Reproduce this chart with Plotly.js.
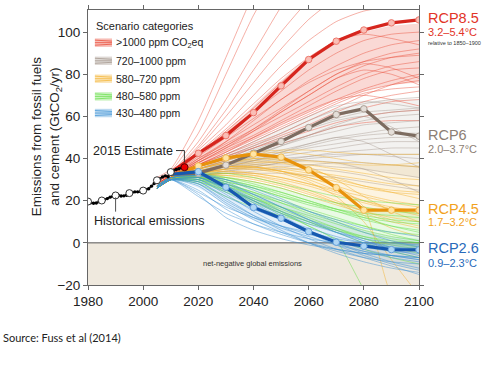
<!DOCTYPE html>
<html><head><meta charset="utf-8">
<script src="https://cdn.plot.ly/plotly-3.0.1.min.js"></script>
<style>html,body{margin:0;padding:0;background:#fff}#chart{width:500px;height:366px}</style>
</head><body><div id="chart"></div>
<script>
// ---------------- data ----------------
const scenYears = [2005,2010,2020,2030,2040,2050,2060,2070,2080,2090,2100];

const redLines = [
 [29,33,48,68,90,112,130,145,155,160,162],
 [30,34,52,80,108,130,150,160,165,168,170],
 [31,35,58,88,118,140,155,165,170,172,173],
 [29,33,45,60,76,92,106,116,122,125,126],
 [28,32,44,56,70,84,96,105,110,112,113],
 [29,33,43,54,66,78,88,96,101,104,106],
 [28,32,42,52,62,72,82,90,96,99,100],
 [28,32,41,50,59,68,77,84,90,94,96],
 [27,31,40,48,56,64,72,80,86,90,92],
 [28,32,40,47,54,62,70,78,84,88,90],
 [27,31,39,46,53,60,67,74,80,84,86],
 [27,31,38,45,51,58,65,72,78,82,83],
 [28,32,39,46,54,63,72,80,85,83,78],
 [27,31,38,44,50,56,62,68,73,77,80],
 [27,31,37,43,49,55,61,67,72,75,77],
 [26,30,37,42,48,54,60,66,71,73,74],
 [27,31,37,42,47,52,58,64,70,75,79],
 [26,30,36,41,46,51,56,62,67,70,72],
 [27,31,38,45,53,62,70,78,82,80,75],
 [26,30,36,40,45,50,55,60,64,67,68],
 [27,31,39,48,58,68,76,82,86,88,89],
 [28,32,42,53,64,76,87,96,99,97,94],
 [29,33,46,63,82,100,115,125,130,132,133],
 [27,31,37,43,50,57,63,68,70,68,65],
 [26,30,36,41,45,49,53,57,60,62,63],
 [26,30,35,39,43,47,51,55,57,58,58]
];
const grayLines = [
 [27,31,36,41,46,52,58,63,66,68,69],
 [27,31,35,40,45,50,55,59,62,63,64],
 [27,31,35,39,43,47,51,55,58,60,61],
 [26,30,34,38,42,46,50,53,56,57,58],
 [27,31,35,38,41,44,47,50,52,54,55],
 [26,30,34,37,40,43,46,49,51,52,52],
 [26,30,33,36,39,42,45,47,49,50,50],
 [27,31,34,37,39,41,43,45,47,48,48],
 [26,30,33,35,37,39,41,43,44,45,45],
 [26,30,33,35,36,38,40,41,42,42,42],
 [27,31,34,36,38,40,41,42,42,41,40],
 [26,30,32,34,35,36,37,38,38,37,36],
 [26,30,33,36,39,43,47,50,48,42,36],
 [27,31,34,36,37,37,37,36,35,33,31],
 [26,30,32,33,34,35,35,34,32,29,27],
 [26,30,32,34,36,38,39,38,35,30,24],
 [27,31,35,39,44,49,54,58,60,55,48],
 [26,30,33,37,41,46,51,56,60,62,63],
 [27,31,36,42,48,54,60,65,67,66,64],
 [26,30,32,33,33,33,32,31,29,27,25]
];
const orangeLines = [
 [27,31,35,38,40,40,39,38,37,37,38],
 [27,31,34,37,38,38,37,35,33,31,30],
 [26,30,34,36,37,36,34,32,30,28,27],
 [27,31,35,39,42,43,42,40,38,37,36],
 [26,30,33,35,35,34,32,29,26,24,23],
 [26,30,33,35,36,35,33,30,27,24,21],
 [27,31,34,36,36,34,31,27,23,20,18],
 [26,30,33,34,33,31,28,25,22,19,17],
 [26,30,32,33,32,30,27,23,19,16,14],
 [27,31,34,36,36,34,30,25,20,16,13],
 [26,30,32,32,30,27,23,19,15,12,10],
 [26,30,32,33,32,29,25,20,15,11,8],
 [27,31,35,38,40,39,36,30,22,15,10],
 [26,30,33,35,35,33,29,22,10,-8,-25],
 [27,31,34,36,36,34,31,27,17,-25,-40],
 [26,30,33,34,33,31,28,24,20,17,15],
 [27,31,35,38,39,38,35,31,27,25,24],
 [26,30,31,31,29,26,22,18,14,10,7],
 [27,31,36,40,43,44,44,43,42,42,42],
 [26,30,32,32,31,28,24,19,13,7,3]
];
const greenLines = [
 [27,31,33,33,31,28,25,22,20,19,18],
 [26,30,32,31,29,26,22,19,17,15,14],
 [26,30,31,29,26,22,18,15,12,10,9],
 [27,31,32,30,27,23,19,15,11,8,6],
 [26,30,30,27,23,19,15,11,8,5,4],
 [26,30,31,28,24,20,16,12,8,4,1],
 [27,31,31,28,24,19,14,10,6,3,1],
 [26,30,29,25,21,17,13,9,5,2,0],
 [26,30,30,26,21,16,11,7,3,0,-2],
 [27,31,32,30,27,24,20,16,12,8,5],
 [26,30,29,24,19,14,10,6,2,-1,-3],
 [26,30,31,27,22,17,12,7,2,-2,-5],
 [27,31,33,31,28,24,20,16,13,11,10],
 [26,30,30,25,20,15,10,5,0,-4,-7],
 [27,31,31,26,20,14,8,2,-3,-7,-10],
 [26,30,31,28,22,15,8,1,-22,-40,-50],
 [26,30,28,22,17,13,9,6,3,1,0],
 [27,31,32,29,26,22,19,16,14,13,12]
];
const blueLines = [
 [27,31,33,30,25,20,15,11,7,5,3],
 [26,30,31,26,20,14,9,5,2,0,-1],
 [26,30,29,22,16,11,7,3,0,-2,-3],
 [27,31,32,27,21,15,10,5,1,-2,-4],
 [26,30,28,20,13,8,4,1,-2,-4,-5],
 [26,30,30,24,17,11,5,0,-4,-7,-9],
 [27,31,31,25,18,12,6,1,-3,-6,-8],
 [26,30,27,18,11,5,0,-4,-7,-9,-10],
 [26,30,25,16,9,4,0,-3,-5,-6,-7],
 [27,31,33,29,23,17,11,6,1,-3,-6],
 [26,30,29,21,13,6,0,-5,-9,-12,-14],
 [26,30,31,26,19,12,5,-1,-6,-10,-13],
 [27,31,32,28,23,17,11,5,0,-4,-7],
 [26,30,22,14,9,5,2,0,-1,-2,-2],
 [26,30,30,23,15,8,2,-3,-7,-11,-15],
 [27,31,32,27,20,13,6,0,-5,-9,-12],
 [26,30,28,19,12,7,3,-1,-4,-6,-8],
 [27,31,32,30,26,21,15,10,5,1,-2],
 [26,30,24,17,12,8,5,2,0,-1,-1],
 [26,30,23,12,6,2,-1,-3,-5,-6,-7]
];

// dense core bands (low / high) per category
const redBandLow   = [27,31,37,43,49,56,62,68,72,75,76];
const redBandHigh  = [29,33,43,53,65,77,88,96,100,103,104];
const grayBandLow  = [26,30,33,35,37,38,38,37,35,33,31];
const grayBandHigh = [27,31,36,42,48,54,60,64,67,68,68];
const orangeBandLow  = [26,30,32,32,30,27,23,19,15,12,10];
const orangeBandHigh = [27,31,35,38,40,40,39,38,37,37,37];
const greenBandLow  = [26,30,29,24,19,14,10,6,2,-1,-3];
const greenBandHigh = [27,31,33,32,29,26,22,19,17,15,14];
const blueBandLow  = [26,30,26,18,11,5,0,-4,-7,-10,-13];
const blueBandHigh = [27,31,33,29,24,19,14,10,6,3,2];

const histYears = [1980,1981,1982,1983,1984,1985,1986,1987,1988,1989,1990,1991,1992,1993,1994,1995,1996,1997,1998,1999,2000,2001,2002,2003,2004,2005,2006,2007,2008,2009,2010,2011,2012,2013,2014];
const histValues = [19.5,19.0,18.8,18.9,19.5,20.0,20.5,21.0,21.7,22.1,22.4,22.6,22.2,22.3,22.6,23.3,23.9,24.2,24.2,24.4,24.9,25.3,25.7,26.9,28.2,29.5,30.4,31.3,31.8,31.4,33.3,34.3,34.8,35.2,35.6];
const histMarkYears = [1980,1985,1990,1995,2000,2005,2010];
const histMarkValues = [19.6,20.1,22.5,23.6,24.8,29.7,33.6];
const estimateYear = [2015];
const estimateValue = [35.9];

const rcpYears = [2010,2020,2030,2040,2050,2060,2070,2080,2090,2100];
const rcp85 = [33.5,42.5,50.9,61.8,74.5,87.0,95.7,101.0,104.4,105.8];
const rcp6  = [32.5,33.1,36.9,42.5,48.1,54.7,60.9,63.6,52.6,50.6];
const rcp45 = [31.8,36.5,40.3,42.1,40.7,34.6,26.2,15.5,15.5,15.5];
const rcp26 = [32.5,33.8,26.4,16.8,11.7,5.3,0.3,-1.6,-3.2,-3.3];

const categoryLabels = ['>1000 ppm CO<sub>2</sub>eq','720–1000 ppm','580–720 ppm','480–580 ppm','430–480 ppm'];
const rcpNames = ['RCP8.5','RCP6','RCP4.5','RCP2.6'];
const rcpRanges = ['3.2–5.4°C','2.0–3.7°C','1.7–3.2°C','0.9–2.3°C'];
const xTicks = [1980,2000,2020,2040,2060,2080,2100];
const yTicks = [-20,0,20,40,60,80,100];

// ---------------- styles ----------------
const FONT = '"Liberation Sans", Arial, Helvetica, sans-serif';
const cats = [
  {lines: redLines,    low: redBandLow,    high: redBandHigh,    rgb:[232,66,46],   a:0.42, fa:0.20},
  {lines: grayLines,   low: grayBandLow,   high: grayBandHigh,   rgb:[160,145,135], a:0.40, fa:0.12},
  {lines: orangeLines, low: orangeBandLow, high: orangeBandHigh, rgb:[243,178,45],  a:0.48, fa:0.14},
  {lines: greenLines,  low: greenBandLow,  high: greenBandHigh,  rgb:[100,222,70],  a:0.48, fa:0.14},
  {lines: blueLines,   low: blueBandLow,   high: blueBandHigh,   rgb:[60,145,212],  a:0.48, fa:0.14}
];
const rgba = (c,a)=>`rgba(${c[0]},${c[1]},${c[2]},${a})`;

const traces = [];
cats.forEach(c=>{
  traces.push({x:scenYears,y:c.low,mode:'lines',line:{width:0,shape:'spline',smoothing:0.6},hoverinfo:'skip',showlegend:false});
  traces.push({x:scenYears,y:c.high,mode:'lines',fill:'tonexty',fillcolor:rgba(c.rgb,c.fa),line:{width:0,shape:'spline',smoothing:0.6},hoverinfo:'skip',showlegend:false});
});
cats.forEach(c=>{
  c.lines.forEach(v=>{
    traces.push({x:scenYears,y:v,mode:'lines',line:{color:rgba(c.rgb,c.a),width:1,shape:'spline',smoothing:0.6},hoverinfo:'skip',showlegend:false});
  });
});

const rcpStyle = [
  {y:rcp85, col:'rgb(214,38,30)',  fill:'rgb(250,190,182)', ring:'rgb(236,120,108)', txt:'rgb(226,52,40)'},
  {y:rcp6,  col:'rgb(125,108,96)', fill:'rgb(228,222,216)', ring:'rgb(170,158,148)', txt:'rgb(140,126,116)'},
  {y:rcp45, col:'rgb(232,146,12)', fill:'rgb(255,228,165)', ring:'rgb(240,185,80)',  txt:'rgb(242,162,30)'},
  {y:rcp26, col:'rgb(22,88,176)',  fill:'rgb(175,214,244)', ring:'rgb(100,160,220)', txt:'rgb(40,106,186)'}
];
rcpStyle.forEach(r=>{
  traces.push({x:rcpYears,y:r.y,mode:'lines',line:{color:r.col,width:3.2},hoverinfo:'skip',showlegend:false});
  traces.push({x:rcpYears.slice(1),y:r.y.slice(1),mode:'markers',
    marker:{symbol:'circle',size:6.5,color:r.fill,line:{color:r.ring,width:1}},hoverinfo:'skip',showlegend:false});
});

traces.push({x:histYears,y:histValues,mode:'lines+markers',line:{color:'#111',width:1.3},marker:{size:3.4,color:'#000'},hoverinfo:'skip',showlegend:false});
traces.push({x:histMarkYears,y:histMarkValues,mode:'markers',marker:{size:7,color:'#fff',line:{color:'#333',width:1}},hoverinfo:'skip',showlegend:false});
traces.push({x:estimateYear,y:estimateValue,mode:'markers',marker:{size:7,color:'rgb(235,0,0)',line:{color:'#5a0000',width:1}},hoverinfo:'skip',showlegend:false});

// ---------------- shapes & annotations ----------------
const shapes = [
  {type:'rect',xref:'paper',yref:'y',x0:0,x1:1,y0:-20,y1:0,fillcolor:'rgb(239,233,222)',line:{width:0},layer:'below'},
  {type:'line',xref:'paper',yref:'y',x0:0,x1:1,y0:0,y1:0,line:{color:'#555',width:1},layer:'below'},
  {type:'path',xref:'x',yref:'y',path:'M 2011.9 43.8 L 2014.95 43.8 L 2014.95 38.2',line:{color:'#333',width:1}},
  {type:'line',xref:'x',yref:'y',x0:1990,x1:1990,y0:21.6,y1:14.8,line:{color:'#555',width:1}}
];
const annotations = [];
// legend
const legX0 = 1982.5, legX1 = 1988.7, legTextX = 1989.6;
const legY = [95.0, 86.4, 77.9, 69.5, 61.6];
annotations.push({xref:'x',yref:'y',x:legX0-0.4,y:102.9,xanchor:'left',yanchor:'middle',showarrow:false,
  text:'Scenario categories',font:{family:FONT,size:11,color:'#222'}});
cats.forEach((c,i)=>{
  const yc = legY[i];
  shapes.push({type:'rect',xref:'x',yref:'y',x0:legX0,x1:legX1,y0:yc-2,y1:yc+2,fillcolor:rgba(c.rgb,0.35),line:{width:0}});
  [-1.2,0,1.2].forEach(d=>{
    shapes.push({type:'line',xref:'x',yref:'y',x0:legX0,x1:legX1,y0:yc+d,y1:yc+d*0.6,line:{color:rgba(c.rgb,0.7),width:1}});
  });
  annotations.push({xref:'x',yref:'y',x:legTextX,y:yc,xanchor:'left',yanchor:'middle',showarrow:false,
    text:categoryLabels[i],font:{family:FONT,size:10.5,color:'#222'}});
});
// RCP labels
const rcpLabelY = [106.6, 51.0, 15.9, -2.4];
const rcpRangeY = [99.9, 44.6, 9.8, -9.6];
rcpStyle.forEach((r,i)=>{
  annotations.push({xref:'paper',yref:'y',x:1.022,y:rcpLabelY[i],xanchor:'left',yanchor:'middle',showarrow:false,
    text:rcpNames[i],font:{family:FONT,size:14.5,color:r.txt}});
  annotations.push({xref:'paper',yref:'y',x:1.022,y:rcpRangeY[i],xanchor:'left',yanchor:'middle',showarrow:false,
    text:rcpRanges[i],font:{family:FONT,size:11,color:r.txt}});
});
annotations.push({xref:'paper',yref:'y',x:1.022,y:94.8,xanchor:'left',yanchor:'middle',showarrow:false,
  text:'relative to 1850–1900',font:{family:FONT,size:5.5,color:'#333'}});
annotations.push({xref:'x',yref:'y',x:2011.6,y:43.8,xanchor:'right',yanchor:'middle',showarrow:false,
  text:'2015 Estimate',font:{family:FONT,size:12.5,color:'#222'}});
annotations.push({xref:'x',yref:'y',x:1981.6,y:10.5,xanchor:'left',yanchor:'middle',showarrow:false,
  text:'Historical emissions',font:{family:FONT,size:12.5,color:'#222'}});
annotations.push({xref:'x',yref:'y',x:2039.8,y:-9.6,xanchor:'center',yanchor:'middle',showarrow:false,
  text:'net-negative global emissions',font:{family:FONT,size:7.5,color:'#333'}});
annotations.push({xref:'paper',yref:'paper',x:-0.128,y:0.54,xanchor:'center',yanchor:'middle',showarrow:false,textangle:-90,
  text:'Emissions from fossil fuels<br>and cement (GtCO<sub>2</sub>/yr)',font:{family:FONT,size:13.5,color:'#222'}});
annotations.push({xref:'paper',yref:'paper',x:-0.262,y:-0.19,xanchor:'left',yanchor:'middle',showarrow:false,
  text:'Source: Fuss et al (2014)',font:{family:'Lato, "Open Sans", sans-serif',size:11,color:'#222'}});

const axisBase = {showline:true,mirror:'ticks',linecolor:'#666',linewidth:1,ticks:'outside',ticklen:4,tickcolor:'#666',
  showgrid:false,zeroline:false,tickfont:{family:FONT,size:13.5,color:'#222'}};

const layout = {
  width:500,height:366,margin:{l:88,r:81,t:10,b:81},
  paper_bgcolor:'#fff',plot_bgcolor:'rgba(0,0,0,0)',
  showlegend:false,
  xaxis:Object.assign({},axisBase,{range:[1980,2100],tickvals:xTicks,ticktext:xTicks.map(String)}),
  yaxis:Object.assign({},axisBase,{range:[-20,110.5],tickvals:yTicks}),
  shapes:shapes,annotations:annotations
};
Plotly.newPlot('chart',traces,layout,{staticPlot:true,displayModeBar:false});
</script></body></html>
